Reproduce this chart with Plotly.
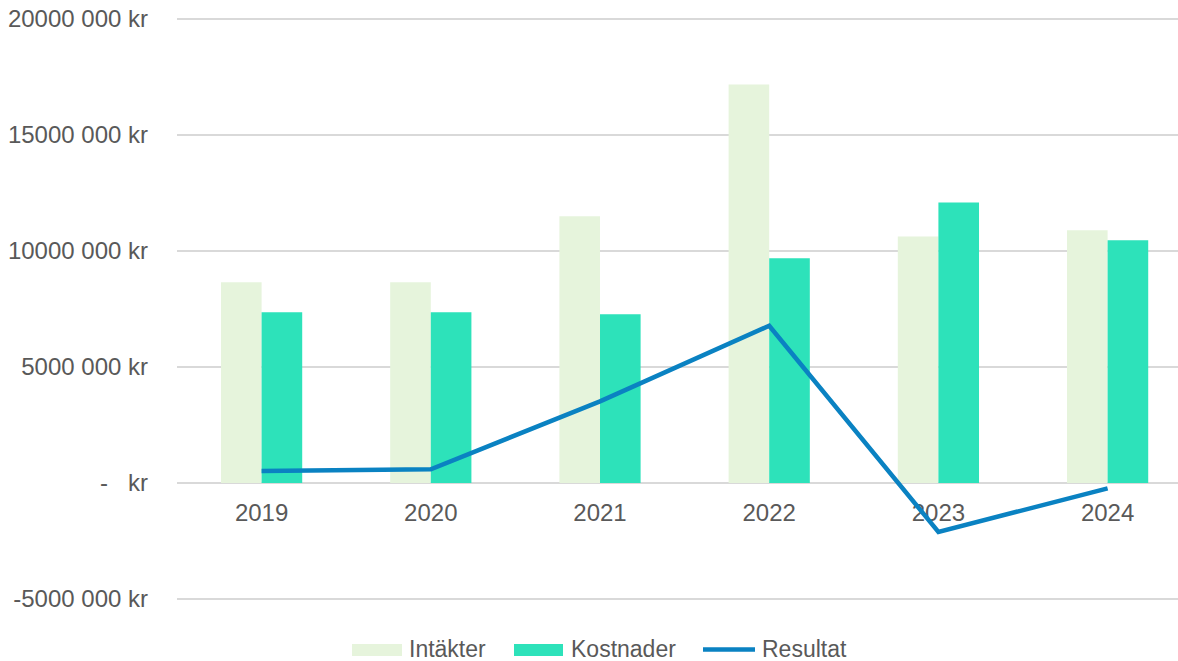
import plotly.graph_objects as go

years = ["2019", "2020", "2021", "2022", "2023", "2024"]
intakter = [8.65e6, 8.65e6, 11.5e6, 17.18e6, 10.63e6, 10.89e6]
kostnader = [7.36e6, 7.36e6, 7.27e6, 9.69e6, 12.09e6, 10.46e6]
resultat = [0.52e6, 0.59e6, 3.52e6, 6.78e6, -2.11e6, -0.23e6]

series_names = ["Intäkter", "Kostnader", "Resultat"]
series_colors = ["#E6F4DC", "#2DE2BA", "#0A82C2"]

tick_vals = [-5e6, 0, 5e6, 10e6, 15e6, 20e6]
tick_text = ["-5000 000 kr", "-\u00a0\u00a0\u00a0kr", "5000 000 kr",
             "10000 000 kr", "15000 000 kr", "20000 000 kr"]

font_family = "Liberation Sans, Arial, sans-serif"
text_color = "#595959"

# plot area in pixels; the y range is padded by 10 px at each end so the
# outer gridlines (20M and -5M) are drawn
W, H = 1178, 661
L, R, T, B = 177, 1178, 9, 609
pad = 10 / 23.2 * 1e6
y_range = [-5e6 - pad, 20e6 + pad]
zero_pos = (B - 483) / (B - T)


def px_x(p):
    return (p - L) / (R - L)


def px_y(p):
    return (B - p) / (B - T)


fig = go.Figure()
fig.add_trace(go.Bar(x=years, y=intakter, name=series_names[0],
                     marker=dict(color=series_colors[0], line=dict(width=0))))
fig.add_trace(go.Bar(x=years, y=kostnader, name=series_names[1],
                     marker=dict(color=series_colors[1], line=dict(width=0))))
fig.add_trace(go.Scatter(x=years, y=resultat, name=series_names[2], mode="lines",
                         line=dict(color=series_colors[2], width=4.5)))

# custom legend (wide swatches like the original)
shapes = [
    dict(type="rect", xref="paper", yref="paper",
         x0=px_x(352), x1=px_x(402), y0=px_y(656), y1=px_y(644),
         fillcolor=series_colors[0], line=dict(width=0)),
    dict(type="rect", xref="paper", yref="paper",
         x0=px_x(514), x1=px_x(563), y0=px_y(656), y1=px_y(644),
         fillcolor=series_colors[1], line=dict(width=0)),
    dict(type="line", xref="paper", yref="paper",
         x0=px_x(703), x1=px_x(755), y0=px_y(649.5), y1=px_y(649.5),
         line=dict(color=series_colors[2], width=4.5)),
]
legend_text_x = [408, 570, 761]
annotations = [
    dict(text=n, xref="paper", yref="paper", x=px_x(xp), y=px_y(649),
         xanchor="left", yanchor="middle", showarrow=False,
         borderpad=0,
         font=dict(size=23, color=text_color, family=font_family))
    for n, xp in zip(series_names, legend_text_x)
]

fig.update_layout(
    width=W, height=H,
    margin=dict(l=L, r=W - R, t=T, b=H - B, autoexpand=False),
    paper_bgcolor="white", plot_bgcolor="white",
    barmode="group", bargap=0.52, bargroupgap=0,
    font=dict(family=font_family, size=24, color=text_color),
    showlegend=False,
    shapes=shapes, annotations=annotations,
    xaxis=dict(range=[-0.5, 5.416], anchor="free", position=zero_pos,
               showgrid=False, showline=False, zeroline=False,
               ticks="", tickfont=dict(size=24, color=text_color),
               ticklabelstandoff=13, layer="below traces", fixedrange=True,
               automargin=False),
    yaxis=dict(range=y_range, tickvals=tick_vals, ticktext=tick_text,
               showgrid=True, gridcolor="#D9D9D9", gridwidth=1.5,
               zeroline=False, showline=False, ticks="",
               tickfont=dict(size=24, color=text_color),
               ticklabelstandoff=28, layer="below traces", automargin=False),
)

fig.write_html(
    "out.html",
    config={"displayModeBar": False},
    post_script="document.body.style.margin='0';document.body.style.overflow='hidden';",
)
